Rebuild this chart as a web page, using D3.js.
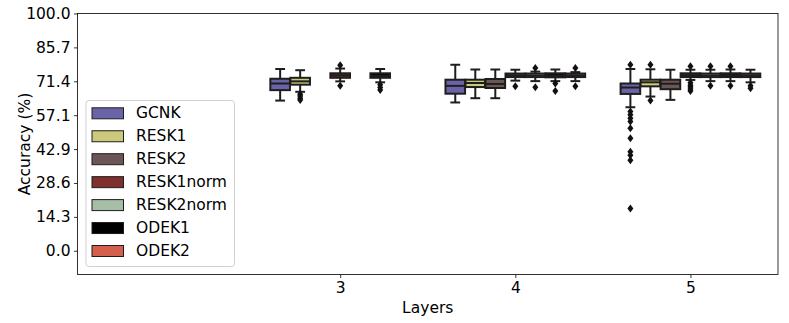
<!DOCTYPE html>
<html><head><meta charset="utf-8">
<script src="https://cdn.jsdelivr.net/npm/d3@7"></script>
<style>body{margin:0;background:#fff}svg{display:block}text{font-family:"DejaVu Sans",sans-serif}</style>
</head><body><svg id="c" width="789" height="323"></svg>
<script>
const layers = [3, 4, 5];
const series = ["GCNK", "RESK1", "RESK2", "RESK1norm", "RESK2norm", "ODEK1", "ODEK2"];
const colors = ["#6b63a7", "#cdc97a", "#6b5656", "#7f302c", "#a6bda6", "#000000", "#d35f4c"];
const yTicks = [0, 100/7, 200/7, 300/7, 400/7, 500/7, 600/7, 100];

// box stats per layer: [whiskerLow, q1, median, q3, whiskerHigh]; null = no run
const GCNK      = [[63.3, 67.7, 70.5, 72.5, 76.6], [62.5, 66.2, 69.5, 72.1, 78.4], [60.5, 66.1, 68.8, 70.5, 76.6]];
const RESK1     = [[67.0, 70.0, 71.4, 72.9, 76.1], [64.3, 69.0, 70.7, 72.1, 76.4], [65.0, 69.3, 71.0, 72.1, 76.5]];
const RESK2     = [null, [64.3, 68.6, 70.3, 72.4, 76.4], [63.6, 68.1, 70.4, 72.1, 76.3]];
const RESK1norm = [[71.4, 72.9, 73.9, 74.8, 76.8], [71.7, 73.2, 73.9, 74.7, 76.3], [72.0, 73.2, 74.0, 74.8, 76.3]];
const RESK2norm = [null, [71.5, 73.2, 73.9, 74.7, 75.5], [71.5, 73.2, 73.9, 74.7, 76.3]];
const ODEK1     = [[71.0, 72.9, 73.7, 74.8, 76.6], [71.5, 73.1, 73.8, 74.8, 76.4], [71.5, 73.2, 74.0, 74.8, 76.4]];
const ODEK2     = [null, [71.5, 73.2, 73.9, 74.7, 75.3], [71.0, 73.2, 73.9, 74.7, 76.3]];

// outliers per layer
const GCNK_out      = [[], [], [78.4, 58.7, 57.3, 55.9, 54.5, 51.6, 47.4, 41.7, 40.3, 38.2, 17.8]];
const RESK1_out     = [[66.0, 65.2, 64.3, 63.5], [], [78.4, 63.3]];
const RESK2_out     = [[], [], []];
const RESK1norm_out = [[78.2, 69.5], [69.3], [77.8, 70.8, 69.8, 69.0, 68.2, 67.3]];
const RESK2norm_out = [[], [77.0, 68.9], [77.8, 69.5]];
const ODEK1_out     = [[70.0, 68.8, 67.8], [70.5, 67.3], [77.8, 69.5]];
const ODEK2_out     = [[], [77.0, 69.3], [69.5, 68.5]];

const stats = [GCNK, RESK1, RESK2, RESK1norm, RESK2norm, ODEK1, ODEK2];
const outs = [GCNK_out, RESK1_out, RESK2_out, RESK1norm_out, RESK2norm_out, ODEK1_out, ODEK2_out];

const L = 77.5, R = 778, T = 13.5, B = 274.5;
const FS = 15.5;
const svg = d3.select("#c");
const x = d3.scaleLinear().domain([1.5, 5.5]).range([L, R]);
const y = d3.scaleLinear().domain([-10, 100]).range([B, T]);
const hue = d3.scaleBand().domain(series).range([-0.4, 0.4]);
const edge = "#1e1e1e";
const lw = 2;

const g = svg.append("g");
stats.forEach((s, si) => {
  s.forEach((st, li) => {
    if (!st) return;
    const cx = x(layers[li] + hue(series[si]) + hue.bandwidth() / 2);
    const w = (x(hue.bandwidth()) - x(0)) * 0.98;
    const [wl, q1, md, q3, wh] = st;
    const gg = g.append("g");
    gg.append("line").attr("x1", cx).attr("x2", cx).attr("y1", y(q3)).attr("y2", y(wh)).attr("stroke", edge).attr("stroke-width", lw);
    gg.append("line").attr("x1", cx).attr("x2", cx).attr("y1", y(q1)).attr("y2", y(wl)).attr("stroke", edge).attr("stroke-width", lw);
    gg.append("line").attr("x1", cx - w / 4).attr("x2", cx + w / 4).attr("y1", y(wh)).attr("y2", y(wh)).attr("stroke", edge).attr("stroke-width", lw);
    gg.append("line").attr("x1", cx - w / 4).attr("x2", cx + w / 4).attr("y1", y(wl)).attr("y2", y(wl)).attr("stroke", edge).attr("stroke-width", lw);
    gg.append("rect").attr("x", cx - w / 2).attr("width", w).attr("y", y(q3)).attr("height", y(q1) - y(q3))
      .attr("fill", colors[si]).attr("stroke", edge).attr("stroke-width", lw);
    gg.append("line").attr("x1", cx - w / 2).attr("x2", cx + w / 2).attr("y1", y(md)).attr("y2", y(md)).attr("stroke", edge).attr("stroke-width", lw);
    outs[si][li].forEach(v => {
      const py = y(v);
      gg.append("path").attr("d", `M${cx},${py - 4}L${cx + 3},${py}L${cx},${py + 4}L${cx - 3},${py}Z`).attr("fill", "#111");
    });
  });
});

// axes
const yAxis = d3.axisLeft(y).tickValues(yTicks).tickSize(3.5).tickPadding(3.5).tickFormat(d3.format(".1f"));
const ya = svg.append("g").attr("transform", `translate(${L},0)`).call(yAxis);
const xAxis = d3.axisBottom(x).tickValues(layers).tickSize(3.5).tickPadding(3.5).tickFormat(d3.format("d"));
const xa = svg.append("g").attr("transform", `translate(0,${B})`).call(xAxis);
[ya, xa].forEach(a => {
  a.select(".domain").remove();
  a.selectAll("text").attr("font-size", FS).attr("fill", "#000").attr("font-family", "DejaVu Sans");
  a.selectAll("line").attr("stroke", "#000").attr("stroke-width", 0.8);
});
svg.append("rect").attr("x", L).attr("y", T).attr("width", R - L).attr("height", B - T)
  .attr("fill", "none").attr("stroke", "#000").attr("stroke-width", 0.8);

svg.append("text").attr("transform", `translate(25,${(T + B) / 2}) rotate(-90)`).attr("text-anchor", "middle")
  .attr("dominant-baseline", "middle").attr("font-size", FS).text("Accuracy (%)");
svg.append("text").attr("x", (L + R) / 2).attr("y", 313).attr("text-anchor", "middle").attr("font-size", FS).text("Layers");

// legend
const lg = svg.append("g");
lg.append("rect").attr("x", 86).attr("y", 100.5).attr("width", 148.5).attr("height", 166).attr("rx", 3)
  .attr("fill", "#fff").attr("fill-opacity", 0.8).attr("stroke", "#d0d0d0").attr("stroke-width", 1);
series.forEach((s, i) => {
  const cy = 113.3 + i * 22.95;
  lg.append("rect").attr("x", 92).attr("y", cy - 5.5).attr("width", 31.5).attr("height", 11)
    .attr("fill", colors[i]).attr("stroke", edge).attr("stroke-width", 1);
  lg.append("text").attr("x", 136).attr("y", cy).attr("dominant-baseline", "central").attr("font-size", FS).text(s);
});
</script></body></html>
